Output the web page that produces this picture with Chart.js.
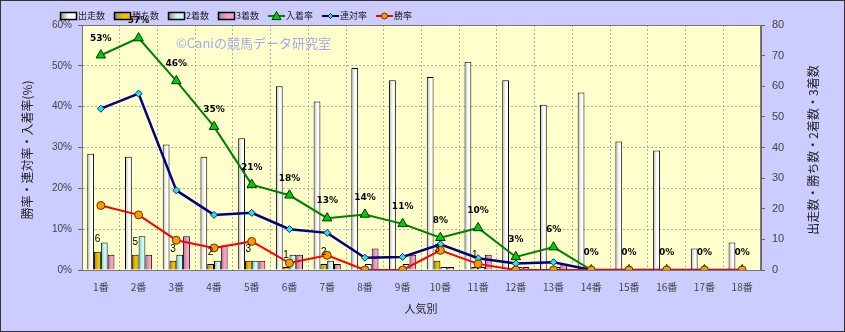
<!DOCTYPE html>
<html>
<head>
<meta charset="utf-8">
<script src="https://cdn.jsdelivr.net/npm/chart.js@4.4.0/dist/chart.umd.min.js"></script>
<style>
  body { margin: 0; background: #ccccff; }
  canvas { display: block; }
</style>
</head>
<body>
<canvas id="chart" width="845" height="332"></canvas>
<script>
// 人気別の集計
const categories = ["1番", "2番", "3番", "4番", "5番", "6番", "7番", "8番", "9番",
  "10番", "11番", "12番", "13番", "14番", "15番", "16番", "17番", "18番"];
const starts  = [38, 37, 41, 37, 43, 60, 55, 66, 62, 63, 68, 62, 54, 58, 42, 39, 7, 9];
const wins    = [6, 5, 3, 2, 3, 1, 2, 0, 0, 3, 1, 0, 0, 0, 0, 0, 0, 0];
const seconds = [9, 11, 5, 3, 3, 5, 3, 2, 2, 1, 1, 1, 1, 0, 0, 0, 0, 0];
const thirds  = [5, 5, 11, 8, 3, 5, 2, 7, 5, 1, 5, 1, 2, 0, 0, 0, 0, 0];
// 率 (%)
const placeRate  = [52.6, 56.8, 46.3, 35.1, 20.9, 18.3, 12.7, 13.6, 11.3, 7.9, 10.3, 3.2, 5.6, 0, 0, 0, 0, 0];
const rentaiRate = [39.5, 43.2, 19.5, 13.5, 14.0, 10.0, 9.1, 3.0, 3.2, 6.3, 2.9, 1.6, 1.9, 0, 0, 0, 0, 0];
const winRate    = [15.8, 13.5, 7.3, 5.4, 7.0, 1.7, 3.6, 0, 0, 4.8, 1.5, 0, 0, 0, 0, 0, 0, 0];

const leftTicks = [0, 10, 20, 30, 40, 50, 60];
const rightTicks = [0, 10, 20, 30, 40, 50, 60, 70, 80];

const JP = '"Noto Sans CJK JP", "Noto Sans", sans-serif';
const CAT_PCT = 0.72;

// 棒の横グラデーション（左端が暗い）
function barFill(k, dark, light) {
  return (c) => {
    const xs = c.chart.scales.x;
    if (c.type !== "data" || !xs || !xs.width) return light;
    const catW = xs.width / categories.length;
    const w = catW * CAT_PCT / 4;
    const left = xs.getPixelForValue(c.dataIndex) + (k - 2) * w;
    const g = c.chart.ctx.createLinearGradient(left, 0, left + w, 0);
    g.addColorStop(0, dark);
    g.addColorStop(0.55, light);
    g.addColorStop(1, light);
    return g;
  };
}

function barSet(k, label, data, dark, light) {
  return {
    type: "bar", label: label, data: data, yAxisID: "y1",
    backgroundColor: barFill(k, dark, light), legendColor: light,
    borderColor: "#000", borderWidth: 1,
    categoryPercentage: CAT_PCT, barPercentage: 1.0, order: 10
  };
}

function drawMarker(ctx, style, x, y, r) {
  if (style === "triangle") {
    ctx.moveTo(x, y - r); ctx.lineTo(x + r, y + r * 0.8); ctx.lineTo(x - r, y + r * 0.8); ctx.closePath();
  } else if (style === "rectRot") {
    ctx.moveTo(x, y - r); ctx.lineTo(x + r, y); ctx.lineTo(x, y + r); ctx.lineTo(x - r, y); ctx.closePath();
  } else {
    ctx.arc(x, y, r, 0, Math.PI * 2);
  }
}

// 背景・凡例・ラベル類
const deco = {
  id: "deco",
  beforeDraw(chart) {
    const { ctx, chartArea: a } = chart;
    ctx.save();
    ctx.fillStyle = "#ccccff";
    ctx.fillRect(0, 0, chart.width, chart.height);
    ctx.fillStyle = "#ffffcc";
    ctx.fillRect(a.left, a.top, a.right - a.left, a.bottom - a.top);
    ctx.strokeStyle = "#333";
    ctx.lineWidth = 1;
    ctx.strokeRect(0.5, 0.5, chart.width - 1, chart.height - 1);
    ctx.restore();
  },
  beforeDatasetsDraw(chart) {
    const { ctx, chartArea: a } = chart;
    ctx.save();
    ctx.strokeStyle = "#777";
    ctx.strokeRect(a.left + 0.5, a.top + 0.5, a.right - a.left - 1, a.bottom - a.top);
    ctx.fillStyle = "#a8a8f0";
    ctx.font = "13px " + JP;
    ctx.textBaseline = "middle";
    ctx.fillText("©Caniの競馬データ研究室", 176, 43);
    ctx.restore();
  },
  afterDatasetsDraw(chart) {
    const { ctx } = chart;
    ctx.save();
    ctx.fillStyle = "#000";
    ctx.textAlign = "center";
    ctx.textBaseline = "middle";
    // 入着率ラベル
    ctx.font = "bold 9px 'DejaVu Sans', sans-serif";
    chart.getDatasetMeta(4).data.forEach((pt, i) => {
      ctx.fillText(Math.round(placeRate[i]) + "%", pt.x, pt.y - 17);
    });
    // 勝ち数ラベル
    ctx.font = "10px 'Liberation Sans', sans-serif";
    chart.getDatasetMeta(1).data.forEach((bar, i) => {
      if (wins[i] > 0) ctx.fillText(String(wins[i]), bar.x, bar.y - 12);
    });
    ctx.restore();
  },
  afterDraw(chart) {
    const { ctx } = chart;
    ctx.save();
    // 凡例
    ctx.font = "9px " + JP;
    ctx.textBaseline = "middle";
    let x = 60;
    const y = 16;
    chart.data.datasets.forEach((ds) => {
      if (ds.type === "bar") {
        const g = ctx.createLinearGradient(x, 0, x + 17, 0);
        g.addColorStop(0, "#888");
        g.addColorStop(0.5, ds.legendColor);
        g.addColorStop(1, ds.legendColor);
        ctx.fillStyle = g;
        ctx.fillRect(x, y - 4, 17, 8);
        ctx.strokeStyle = "#000";
        ctx.lineWidth = 1.5;
        ctx.strokeRect(x + 0.5, y - 3.5, 16, 7);
      } else {
        ctx.strokeStyle = ds.borderColor;
        ctx.lineWidth = 2;
        ctx.beginPath();
        ctx.moveTo(x, y); ctx.lineTo(x + 17, y);
        ctx.stroke();
        ctx.fillStyle = ds.pointBackgroundColor;
        ctx.strokeStyle = ds.pointBorderColor;
        ctx.lineWidth = 1;
        ctx.beginPath();
        drawMarker(ctx, ds.pointStyle, x + 8.5, y, ds.pointRadius - 1);
        ctx.fill(); ctx.stroke();
      }
      ctx.fillStyle = "#222";
      ctx.fillText(ds.label, x + 18, y);
      x += 18 + ctx.measureText(ds.label).width + 9;
    });
    // 軸タイトル
    ctx.fillStyle = "#222";
    ctx.textAlign = "center";
    ctx.font = "12px " + JP;
    ctx.save();
    ctx.translate(27, 150); ctx.rotate(-Math.PI / 2);
    ctx.fillText("勝率・連対率・入着率(%)", 0, 0);
    ctx.restore();
    ctx.save();
    ctx.translate(813, 150); ctx.rotate(-Math.PI / 2);
    ctx.fillText("出走数・勝ち数・2着数・3着数", 0, 0);
    ctx.restore();
    ctx.font = "11px " + JP;
    ctx.fillText("人気別", 421, 309);
    ctx.restore();
  }
};

new Chart(document.getElementById("chart"), {
  data: {
    labels: categories,
    datasets: [
      barSet(0, "出走数", starts, "#b8b8b8", "#ffffff"),
      barSet(1, "勝ち数", wins, "#a07800", "#f0c000"),
      barSet(2, "2着数", seconds, "#80c0c0", "#c8f8f8"),
      barSet(3, "3着数", thirds, "#c06090", "#f4a0cc"),
      {
        type: "line", label: "入着率", data: placeRate, yAxisID: "y",
        borderColor: "#008000", borderWidth: 2, pointStyle: "triangle", pointRadius: 5.5,
        pointBackgroundColor: "#00cc00", pointBorderColor: "#003300", pointBorderWidth: 1, order: 3
      },
      {
        type: "line", label: "連対率", data: rentaiRate, yAxisID: "y",
        borderColor: "#000080", borderWidth: 2.5, pointStyle: "rectRot", pointRadius: 3.5,
        pointBackgroundColor: "#33ddee", pointBorderColor: "#003366", pointBorderWidth: 1, order: 2
      },
      {
        type: "line", label: "勝率", data: winRate, yAxisID: "y",
        borderColor: "#ff0000", borderWidth: 2, pointStyle: "circle", pointRadius: 4,
        pointBackgroundColor: "#ff9900", pointBorderColor: "#663300", pointBorderWidth: 1, order: 1
      }
    ]
  },
  options: {
    responsive: false,
    devicePixelRatio: 1,
    animation: false,
    layout: { padding: { top: 25, left: 0, right: 0, bottom: 0 } },
    plugins: { legend: { display: false }, tooltip: { enabled: false } },
    scales: {
      x: {
        afterFit: (s) => { s.height = 62; },
        grid: { color: "#b0b0a0", drawTicks: false, offset: true },
        border: { color: "#666", dash: [2, 2] },
        ticks: { color: "#444", font: { size: 10, family: JP }, padding: 11, maxRotation: 0 }
      },
      y: {
        position: "left", min: 0, max: 60,
        afterFit: (s) => { s.width = 82; },
        afterBuildTicks: (s) => { s.ticks = leftTicks.map((v) => ({ value: v })); },
        grid: { color: "#b0b0a0", tickLength: 4, tickColor: "#666" },
        border: { color: "#666", dash: [2, 2] },
        ticks: { color: "#444", font: { size: 10, family: "'Liberation Sans', sans-serif" }, padding: 6,
          callback: (v) => v + "%" }
      },
      y1: {
        position: "right", min: 0, max: 80,
        afterFit: (s) => { s.width = 84; },
        afterBuildTicks: (s) => { s.ticks = rightTicks.map((v) => ({ value: v })); },
        grid: { drawOnChartArea: false, tickLength: 4, color: "#666" },
        border: { color: "#666" },
        ticks: { color: "#444", font: { size: 11, family: "'Liberation Sans', sans-serif" }, padding: 7 }
      }
    }
  },
  plugins: [deco]
});
</script>
</body>
</html>
